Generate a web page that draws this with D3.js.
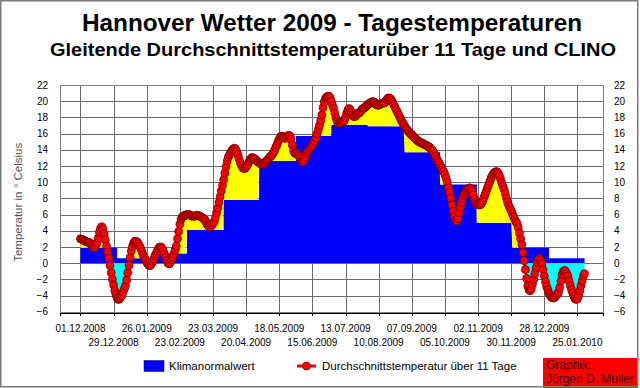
<!DOCTYPE html>
<html><head><meta charset="utf-8">
<script src="https://cdn.jsdelivr.net/npm/d3@7"></script>
<style>
body{margin:0;background:#fff}
svg{display:block}
text{font-family:"Liberation Sans",Arial,Helvetica,sans-serif}
</style>
</head><body>
<svg id="chart" width="640" height="388"></svg>
<script>
const titleText = "Hannover Wetter 2009 - Tagestemperaturen";
const subtitleText = "Gleitende Durchschnittstemperaturüber 11 Tage und CLINO";
const yAxisTitle = "Temperatur in ° Celsius";
const legendClino = "Klimanormalwert";
const legendAvg = "Durchschnittstemperatur über 11 Tage";
const creditLines = ["Graphik:", "Jürgen D. Müller"];

const startDate = "01.12.2008";
const tickLabels = ["01.12.2008","29.12.2008","26.01.2009","23.02.2009","23.03.2009","20.04.2009",
  "18.05.2009","15.06.2009","13.07.2009","10.08.2009","07.09.2009","05.10.2009","02.11.2009",
  "30.11.2009","28.12.2009","25.01.2010"];
const yTicks = [-6,-4,-2,0,2,4,6,8,10,12,14,16,18,20,22];

// CLINO (Klimanormalwert) per calendar month, Jan..Dec
const clinoMonths = ["Jan","Feb","Mär","Apr","Mai","Jun","Jul","Aug","Sep","Okt","Nov","Dez"];
const clinoValues = [0.6,1.2,4.1,7.8,12.6,15.7,17.1,16.9,13.7,9.7,5.0,1.9];

// 11-day running mean, one value per day starting 01.12.2008
const avgTemp = [
 3.0,2.95,2.9,2.8,2.7,2.65,2.6,2.55,2.5,2.3,
 2.1,1.95,1.9,2.2,2.5,3.1,3.8,4.3,4.5,4.2,
 3.6,2.9,2.1,1.4,0.6,-0.3,-1.2,-2.0,-2.7,-3.4,
 -3.9,-4.3,-4.5,-4.4,-4.2,-4.0,-3.6,-3.2,-2.8,-2.1,
 -1.2,-0.3,0.7,1.5,2.1,2.5,2.7,2.7,2.6,2.4,
 2.1,1.8,1.4,1.0,0.7,0.4,0.1,-0.1,-0.3,-0.3,
 -0.1,0.2,0.5,0.9,1.2,1.5,1.8,2.0,2.0,1.8,
 1.5,1.1,0.7,0.3,0.0,-0.1,0.1,0.4,0.7,1.1,
 1.6,2.1,3.0,3.9,4.8,5.4,5.7,5.8,5.9,5.9,
 6.0,6.0,6.0,5.9,5.8,5.8,5.8,5.8,5.9,5.9,
 5.85,5.8,5.7,5.6,5.5,5.4,5.1,4.8,4.6,4.5,
 4.5,4.7,4.9,5.1,5.6,6.2,6.8,7.5,8.2,8.9,
 9.6,10.3,11.1,11.9,12.6,13.1,13.4,13.7,13.9,14.1,
 14.2,14.1,13.8,13.4,12.9,12.4,12.1,11.8,11.7,11.7,
 11.9,12.1,12.4,12.7,12.9,13.05,13.0,12.9,12.8,12.6,
 12.5,12.4,12.3,12.2,12.2,12.3,12.4,12.6,12.75,12.9,
 13.1,13.2,13.4,13.6,13.9,14.3,14.6,15.0,15.3,15.6,
 15.7,15.6,15.5,15.4,15.5,15.7,15.8,15.7,15.3,14.6,
 13.9,13.6,13.5,13.5,13.4,13.2,12.9,12.6,12.5,12.7,
 13.1,13.5,13.8,14.0,14.2,14.4,14.6,14.8,15.1,15.5,
 16.0,16.5,17.0,17.6,18.3,19.2,19.9,20.3,20.5,20.6,
 20.6,20.4,20.0,19.5,19.1,18.5,17.9,17.5,17.3,17.3,
 17.3,17.4,17.5,17.6,18.0,18.5,18.9,19.1,18.9,18.6,
 18.3,18.1,18.1,18.3,18.5,18.5,18.6,18.8,19.0,19.1,
 19.2,19.3,19.5,19.6,19.7,19.8,19.9,19.95,19.9,19.8,
 19.6,19.5,19.5,19.6,19.7,19.75,19.75,19.8,20.0,20.2,
 20.4,20.4,20.3,20.1,19.8,19.5,19.2,18.9,18.6,18.3,
 18.0,17.7,17.4,17.2,16.9,16.7,16.5,16.3,16.1,15.95,
 15.85,15.7,15.55,15.4,15.25,15.1,15.0,14.9,14.9,14.8,
 14.7,14.6,14.6,14.5,14.4,14.3,14.1,14.0,13.8,13.5,
 13.2,12.9,12.6,12.4,12.1,11.8,11.5,11.3,10.9,10.5,
 10.0,9.3,8.7,8.0,7.2,6.4,5.8,5.4,5.2,5.5,
 6.2,6.9,7.5,8.0,8.4,8.7,8.9,9.1,9.25,9.3,
 9.2,8.9,8.4,7.9,7.5,7.3,7.2,7.2,7.2,7.4,
 7.7,8.1,8.5,8.9,9.3,9.7,10.1,10.5,10.8,11.0,
 11.2,11.3,11.3,11.1,10.8,10.4,9.9,9.5,9.1,8.6,
 8.0,7.5,7.1,6.8,6.5,6.1,5.7,5.4,5.1,4.9,
 4.4,3.7,3.0,2.3,1.3,0.3,-0.8,-1.9,-2.8,-3.3,
 -3.4,-3.2,-2.6,-2.0,-1.3,-0.6,0.1,0.5,0.6,0.4,
 -0.1,-0.8,-1.6,-2.3,-2.9,-3.3,-3.7,-4.0,-4.2,-4.3,
 -4.3,-4.2,-4.0,-3.8,-3.6,-3.0,-2.2,-1.4,-1.0,-0.9,
 -1.0,-1.3,-1.6,-2.2,-2.8,-3.3,-3.7,-4.1,-4.4,-4.5,
 -4.4,-4.0,-3.4,-2.8,-2.2,-1.6,-1.3
];

// ---------- layout ----------
const W = 640, H = 388;
const plot = {left: 60, right: 603, top: 85, bottom: 311.7};
const parse = d3.utcParse("%d.%m.%Y");
const fmt = d3.utcFormat("%d.%m.%Y");
const start = parse(startDate);
const DAY = 864e5;

const data = avgTemp.map((v, i) => {
  const date = d3.utcDay.offset(start, i);
  return {date, temp: v, clino: clinoValues[date.getUTCMonth()]};
});

const x = d3.scaleUtc()
  .domain([new Date(start.getTime() - 17.3 * DAY), new Date(start.getTime() + 441.6 * DAY)])
  .range([plot.left, plot.right]);
const y = d3.scaleLinear().domain([-6, 22]).range([plot.bottom, plot.top]);

const svg = d3.select("#chart");
svg.append("rect").attr("x",0).attr("y",0).attr("width",W).attr("height",H).attr("fill","#fff");

// titles
svg.append("text").attr("x", 332).attr("y", 31).attr("text-anchor","middle")
  .attr("font-size", 24).attr("font-weight","bold").attr("fill","#000")
  .attr("textLength", 500).attr("lengthAdjust","spacingAndGlyphs").text(titleText);
svg.append("text").attr("x", 333).attr("y", 56).attr("text-anchor","middle")
  .attr("font-size", 19).attr("font-weight","bold").attr("fill","#000")
  .attr("textLength", 566).attr("lengthAdjust","spacingAndGlyphs").text(subtitleText);

// gridlines
const tickDates = tickLabels.map(parse);
const grid = svg.append("g").attr("shape-rendering","crispEdges");
grid.selectAll("line.h").data(yTicks).join("line")
  .attr("x1", plot.left).attr("x2", plot.right)
  .attr("y1", d => Math.round(y(d)) + 0.5).attr("y2", d => Math.round(y(d)) + 0.5)
  .attr("stroke", "#6a6a6a").attr("stroke-width", 1);
grid.selectAll("line.v").data(tickDates).join("line")
  .attr("y1", plot.top).attr("y2", plot.bottom)
  .attr("x1", d => Math.round(x(d)) + 0.5).attr("x2", d => Math.round(x(d)) + 0.5)
  .attr("stroke", "#6a6a6a").attr("stroke-width", 1);

// areas
const blueArea = d3.area().curve(d3.curveStepAfter)
  .x(d => x(d.date)).y0(y(0)).y1(d => y(d.clino));
svg.append("path").datum(data).attr("d", blueArea).attr("fill", "#0000ff");

const yellowArea = d3.area()
  .x(d => x(d.date)).y0(d => y(d.clino)).y1(d => y(Math.max(d.temp, d.clino)));
svg.append("path").datum(data).attr("d", yellowArea).attr("fill", "#ffff00");

const cyanArea = d3.area()
  .x(d => x(d.date)).y0(y(0)).y1(d => y(Math.min(d.temp, 0)));
svg.append("path").datum(data).attr("d", cyanArea).attr("fill", "#00ffff");

// frame and axes
const frame = svg.append("g").attr("shape-rendering","crispEdges");
frame.append("rect").attr("x", plot.left + 0.5).attr("y", plot.top + 0.5)
  .attr("width", plot.right - plot.left).attr("height", plot.bottom - plot.top)
  .attr("fill","none").attr("stroke","#808080");
const xAxis = d3.axisBottom(x).tickValues(tickDates).tickSize(3).tickFormat("");
const xg = svg.append("g").attr("transform", `translate(0,${Math.round(plot.bottom)+0.5})`).call(xAxis);
xg.select(".domain").attr("stroke","#000").attr("shape-rendering","crispEdges");
xg.selectAll(".tick line").attr("stroke","#000").attr("shape-rendering","crispEdges");

// x labels on two rows
svg.append("g").selectAll("text").data(tickDates).join("text")
  .attr("x", d => x(d))
  .attr("y", (d, i) => i % 2 === 0 ? 331.5 : 345.5)
  .attr("text-anchor","middle").attr("font-size", 10).attr("fill","#000")
  .text(d => fmt(d));

// y labels left and right
const yAxisL = d3.axisLeft(y).tickValues(yTicks).tickSize(0).tickPadding(0);
const yl = svg.append("g").attr("transform", `translate(48,0)`).call(yAxisL);
yl.select(".domain").remove();
yl.selectAll("text").attr("font-size", 10).attr("fill","#000").attr("font-family",null);
const yAxisR = d3.axisRight(y).tickValues(yTicks).tickSize(0).tickPadding(0);
const yr = svg.append("g").attr("transform", `translate(614,0)`).call(yAxisR);
yr.select(".domain").remove();
yr.selectAll("text").attr("font-size", 10).attr("fill","#000").attr("font-family",null);

svg.append("text").attr("transform", `translate(22,${(plot.top+plot.bottom)/2 + 4}) rotate(-90)`)
  .attr("text-anchor","middle").attr("font-size", 11.5).attr("fill","#555").text(yAxisTitle);

// average temperature curve
const line = d3.line().x(d => x(d.date)).y(d => y(d.temp));
svg.append("path").datum(data).attr("d", line).attr("fill","none")
  .attr("stroke","#ff0000").attr("stroke-width", 2.5);
svg.append("g").selectAll("circle").data(data).join("circle")
  .attr("cx", d => x(d.date)).attr("cy", d => y(d.temp)).attr("r", 4)
  .attr("fill","#ff0000").attr("stroke","#5a0000").attr("stroke-width", 0.7);

// legend
svg.append("rect").attr("x", 144).attr("y", 360.5).attr("width", 20).attr("height", 11)
  .attr("fill","#0000ff").attr("stroke","#000080").attr("stroke-width",0.5);
svg.append("text").attr("x", 169).attr("y", 369.5).attr("font-size", 11.5).attr("fill","#000").text(legendClino);
svg.append("line").attr("x1", 297).attr("x2", 316).attr("y1", 366).attr("y2", 366)
  .attr("stroke","#ff0000").attr("stroke-width", 3);
svg.append("circle").attr("cx", 306.5).attr("cy", 366).attr("r", 4)
  .attr("fill","#ff0000").attr("stroke","#5a0000").attr("stroke-width", 0.7);
svg.append("text").attr("x", 322).attr("y", 369.5).attr("font-size", 11.5).attr("fill","#000").text(legendAvg);

// credit box
svg.append("rect").attr("x", 543).attr("y", 358).attr("width", 95).attr("height", 30).attr("fill","#ff0000");
svg.append("g").selectAll("text").data(creditLines).join("text")
  .attr("x", 546).attr("y", (d, i) => 369 + i * 14).attr("font-size", 12).attr("fill","#3a0000").text(d => d);

// outer border
svg.append("rect").attr("x", 0.75).attr("y", 0.75).attr("width", 637).attr("height", 386)
  .attr("fill","none").attr("stroke","#7a7a7a").attr("stroke-width", 1.5);
</script>
</body></html>
